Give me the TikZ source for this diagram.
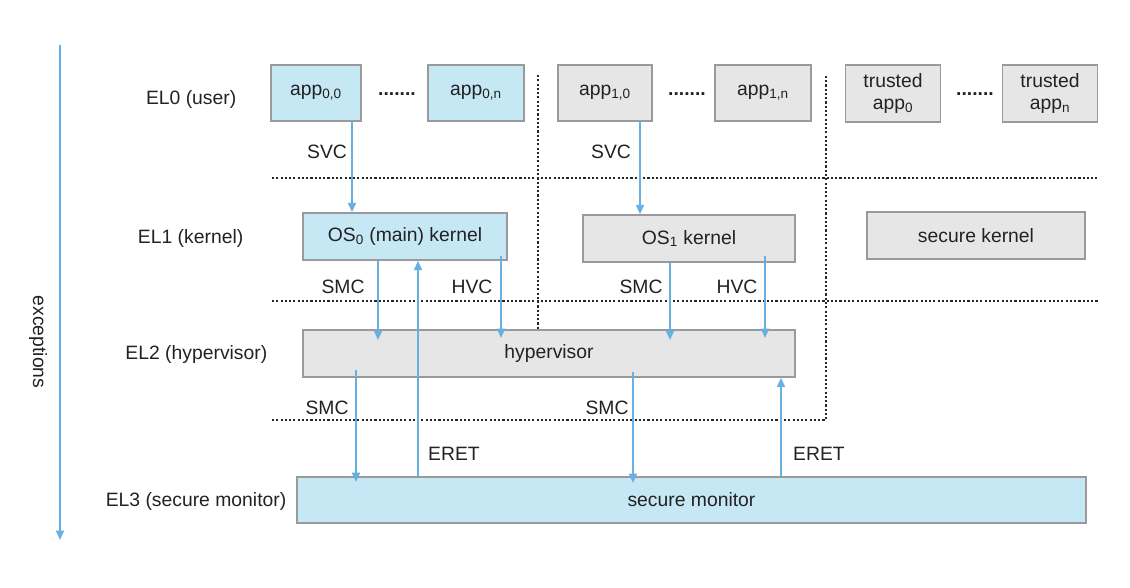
\documentclass[tikz,border=0pt]{standalone}
\usepackage{fontspec}
\setmainfont{Liberation Sans}
\usetikzlibrary{arrows.meta}
\definecolor{bfill}{HTML}{C6E8F5}
\definecolor{gfill}{HTML}{E6E6E6}
\definecolor{bord}{HTML}{9A9A9A}
\definecolor{arr}{HTML}{68B0E2}
\definecolor{txt}{HTML}{222222}
\begin{document}
\begin{tikzpicture}[x=0.75pt,y=-0.75pt,
  every node/.style={font=\fontsize{14.5}{17}\selectfont,text=txt},
  box/.style 2 args={draw=bord,line width=1.2pt,inner sep=0pt,align=center,minimum width={0.75*#1pt},minimum height={0.75*#2pt}},
  bbox/.style 2 args={box={#1}{#2},fill=bfill},
  gbox/.style 2 args={box={#1}{#2},fill=gfill},
  lvl/.style={anchor=east},
  dline/.style={line width=1.6pt,dash pattern=on 1.6pt off 1.6pt,black!85},
  ar/.style={draw=arr,line width=1.4pt,-{Triangle[width=6pt,length=7pt]}},
  lab/.style={inner sep=0pt}]
\useasboundingbox (0,0) rectangle (1130,588);
% exceptions axis
\coordinate (ea) at (60,45); \coordinate (eb) at (60,540);
\draw[ar] (ea) -- (eb);
\node[rotate=-90] (exc) at (38,342) {exceptions};
% level labels
\node[lvl] (l0) at (241,99) {EL0 (user)};
\node[lvl] (l1) at (248,238) {EL1 (kernel)};
\node[lvl] (l2) at (272,354) {EL2 (hypervisor)};
\node[lvl] (l3) at (291,501) {EL3 (secure monitor)};
% separators
\draw[dline] (272,178) -- (1097,178);
\draw[dline] (272,301) -- (1098,301);
\draw[dline] (272,420) -- (826,420) -- (826,75);
\draw[dline] (538,75) -- (538,330);
% EL0 boxes
\node[bbox={90}{56}] (a00) at (316,93) {app\textsubscript{0,0}};
\node[bbox={96}{56}] (a0n) at (476,93) {app\textsubscript{0,n}};
\node[gbox={94}{56}] (a10) at (605,93) {app\textsubscript{1,0}};
\node[gbox={96}{56}] (a1n) at (763,93) {app\textsubscript{1,n}};
\node[gbox={95}{57}] (t0) at (893,93.5) {trusted\\[-1pt]app\textsubscript{0}};
\node[gbox={95}{57}] (tn) at (1050,93.5) {trusted\\[-1pt]app\textsubscript{n}};
\node[font=\bfseries\fontsize{14.5}{17}\selectfont] (d1) at (397,94) {.......};
\node[font=\bfseries\fontsize{14.5}{17}\selectfont] (d2) at (687,94) {.......};
\node[font=\bfseries\fontsize{14.5}{17}\selectfont] (d3) at (975,94) {.......};
% EL1
\node[bbox={204}{47}] (os0) at (405,236.5) {OS\textsubscript{0} (main) kernel};
\node[gbox={212}{47}] (os1) at (689,238.5) {OS\textsubscript{1} kernel};
\node[gbox={218}{47}] (sk) at (976,235.5) {secure kernel};
% EL2
\node[gbox={492}{47}] (hyp) at (549,353.5) {hypervisor};
% EL3
\node[bbox={789}{46}] (mon) at (691.5,500) {secure monitor};
% arrows
\draw[ar] (a00.south -| 352,0) -- (os0.north -| 352,0);
\draw[ar] (a10.south -| 640,0) -- (os1.north -| 640,0);
\draw[ar] (os0.south -| 378,0) -- (378,340);
\draw[ar] (mon.north -| 418,0) -- (os0.south -| 418,0);
\draw[ar] (501,256) -- (501,338);
\draw[ar] (os1.south -| 670,0) -- (670,340);
\draw[ar] (765,256) -- (765,338);
\draw[ar] (356,370) -- (356,482);
\draw[ar] (633,372) -- (633,483);
\draw[ar] (mon.north -| 781,0) -- (hyp.south -| 781,0);
% arrow labels
\node[lab] (s1) at (327,152) {SVC};
\node[lab] (s2) at (611,152) {SVC};
\node[lab] (m1) at (343,287) {SMC};
\node[lab] (h1) at (472,287) {HVC};
\node[lab] (m2) at (641,287) {SMC};
\node[lab] (h2) at (737,287) {HVC};
\node[lab] (m3) at (327,408) {SMC};
\node[lab] (m4) at (607,408) {SMC};
\node[lab] (e1) at (454,454) {ERET};
\node[lab] (e2) at (819,454) {ERET};
\end{tikzpicture}
\end{document}
